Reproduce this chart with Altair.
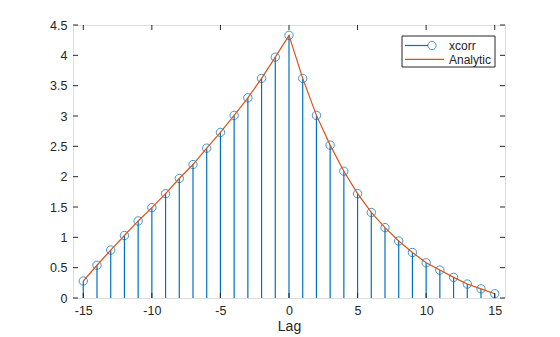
import altair as alt
import pandas as pd

# ---- data ----
lags = list(range(-15, 16))
xcorr_vals = [0.28, 0.54, 0.79, 1.03, 1.27, 1.49, 1.72, 1.97, 2.20, 2.47, 2.73, 3.01, 3.30, 3.62, 3.97,
              4.33,
              3.62, 3.01, 2.52, 2.09, 1.72, 1.41, 1.16, 0.94, 0.75, 0.58, 0.46, 0.34, 0.23, 0.15, 0.07]
analytic_vals = [0.28, 0.54, 0.79, 1.03, 1.27, 1.49, 1.72, 1.97, 2.20, 2.47, 2.73, 3.01, 3.30, 3.62, 3.97,
                 4.33,
                 3.62, 3.01, 2.52, 2.09, 1.72, 1.41, 1.16, 0.94, 0.75, 0.58, 0.46, 0.34, 0.23, 0.15, 0.07]
x_ticks = [-15, -10, -5, 0, 5, 10, 15]
y_ticks = [0, 0.5, 1, 1.5, 2, 2.5, 3, 3.5, 4, 4.5]
legend_labels = ["xcorr", "Analytic"]

BLUE = "#0072BD"
ORANGE = "#D95319"
INK = "#262626"
FONT = "Liberation Sans"

W, H = 432, 273
TICK = 5

stem_df = pd.DataFrame({"lag": lags, "val": xcorr_vals, "base": [0] * len(lags)})
ana_df = pd.DataFrame({"lag": lags, "val": analytic_vals})
xt_df = pd.DataFrame({"lag": x_ticks})
yt_df = pd.DataFrame({"val": y_ticks})

xscale = alt.Scale(domain=[-15.75, 15.75], nice=False, zero=False)
yscale = alt.Scale(domain=[0, 4.5], nice=False)
xaxis = alt.Axis(values=x_ticks, ticks=False, domain=False, grid=False, labelFontSize=12.5,
                 labelPadding=6, labelColor=INK, titleFontSize=14, titleFontWeight="normal",
                 titleColor=INK, titlePadding=3, labelFont=FONT, titleFont=FONT,
                 labelExpr="'' + datum.value")
yaxis = alt.Axis(values=y_ticks, ticks=False, domain=False, grid=False, labelFontSize=12.5,
                 labelPadding=6, labelColor=INK, labelFont=FONT,
                 labelExpr="'' + datum.value")

X = lambda: alt.X("lag:Q", scale=xscale, axis=xaxis, title="Lag")
Y = lambda: alt.Y("val:Q", scale=yscale, axis=yaxis, title=None)

stems = alt.Chart(stem_df).mark_rule(color=BLUE, strokeWidth=1.2).encode(
    x=X(), y=Y(), y2="base:Q")
points = alt.Chart(stem_df).mark_point(shape="circle", filled=False, color=BLUE, size=70,
                                       strokeWidth=1, opacity=0.75).encode(x=X(), y=Y())
line = alt.Chart(ana_df).mark_line(color=ORANGE, strokeWidth=1.2).encode(x=X(), y=Y())

# inward ticks (MATLAB box style)
tb = alt.Chart(xt_df).mark_rule(color=INK, strokeWidth=1).encode(
    x=X(), y=alt.value(H), y2=alt.value(H - TICK))
tt = alt.Chart(xt_df).mark_rule(color=INK, strokeWidth=1).encode(
    x=X(), y=alt.value(0), y2=alt.value(TICK))
tl = alt.Chart(yt_df).mark_rule(color=INK, strokeWidth=1).encode(
    y=Y(), x=alt.value(0), x2=alt.value(TICK))
tr = alt.Chart(yt_df).mark_rule(color=INK, strokeWidth=1).encode(
    y=Y(), x=alt.value(W), x2=alt.value(W - TICK))

# legend box
one = pd.DataFrame({"a": [0]})
lg_box = alt.Chart(one).mark_rect(fill="white", stroke=INK, strokeWidth=1).encode(
    x=alt.value(329), x2=alt.value(422), y=alt.value(11), y2=alt.value(42))
lg_l1 = alt.Chart(one).mark_rule(color=BLUE, strokeWidth=1.2).encode(
    x=alt.value(332), x2=alt.value(355), y=alt.value(20.5))
lg_p1 = alt.Chart(one).mark_point(shape="circle", filled=False, color=BLUE, size=70,
                                  strokeWidth=1, opacity=0.75).encode(
    x=alt.value(359), y=alt.value(20.5))
lg_l2 = alt.Chart(one).mark_rule(color=ORANGE, strokeWidth=1.2).encode(
    x=alt.value(332), x2=alt.value(371), y=alt.value(34.3))
lg_t1 = alt.Chart(pd.DataFrame({"t": [legend_labels[0]]})).mark_text(
    align="left", baseline="middle", fontSize=12, font=FONT, color=INK).encode(
    x=alt.value(376), y=alt.value(21), text="t:N")
lg_t2 = alt.Chart(pd.DataFrame({"t": [legend_labels[1]]})).mark_text(
    align="left", baseline="middle", fontSize=12, font=FONT, color=INK).encode(
    x=alt.value(376), y=alt.value(34.8), text="t:N")

chart = alt.layer(stems, points, line, tb, tt, tl, tr,
                  lg_box, lg_l1, lg_p1, lg_l2, lg_t1, lg_t2).properties(
    width=W, height=H,
    autosize=alt.AutoSizeParams(type="none"),
    padding={"left": 73, "top": 25, "right": 55, "bottom": 39},
    background="white",
).configure_view(stroke=INK, strokeWidth=1).configure(font=FONT)

chart.save("out.html", embed_options={"renderer": "svg", "actions": False})
